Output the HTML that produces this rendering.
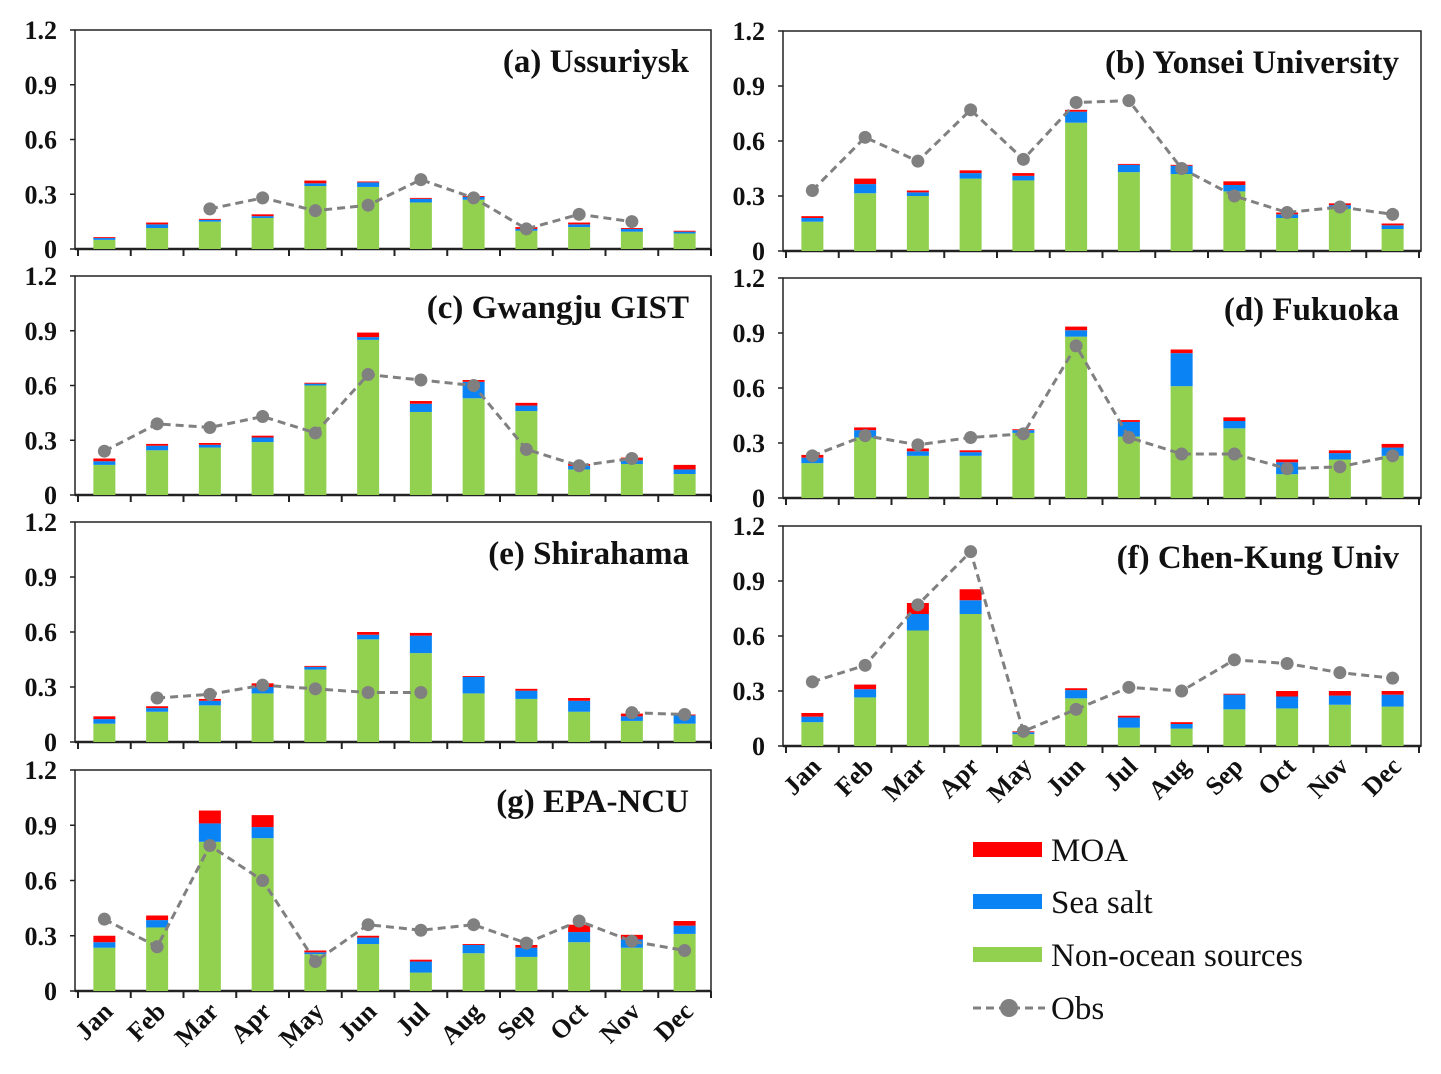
<!DOCTYPE html>
<html><head><meta charset="utf-8"><style>
html,body{margin:0;padding:0;background:#fff;}
svg{display:block;font-family:"Liberation Serif",serif;}
</style></head><body>
<svg id="chart" width="1441" height="1074" viewBox="0 0 1441 1074" xmlns="http://www.w3.org/2000/svg"></svg>
<script>
const months = ["Jan","Feb","Mar","Apr","May","Jun","Jul","Aug","Sep","Oct","Nov","Dec"];
const yTicks = [0, 0.3, 0.6, 0.9, 1.2];
const yTickLabels = ["0","0.3","0.6","0.9","1.2"];
const titles = ["(a) Ussuriysk","(b) Yonsei University","(c) Gwangju GIST","(d) Fukuoka","(e) Shirahama","(f) Chen-Kung Univ","(g) EPA-NCU"];

const greenA = [0.05,0.115,0.15,0.17,0.345,0.34,0.255,0.27,0.10,0.12,0.095,0.085];
const blueA  = [0.01,0.02,0.01,0.01,0.015,0.025,0.02,0.015,0.01,0.015,0.015,0.01];
const redA   = [0.005,0.01,0.005,0.01,0.015,0.005,0.005,0.005,0.01,0.01,0.005,0.005];
const obsA   = [null,null,0.22,0.28,0.21,0.24,0.38,0.28,0.11,0.19,0.15,null];

const greenB = [0.16,0.315,0.30,0.395,0.385,0.70,0.43,0.42,0.325,0.18,0.23,0.12];
const blueB  = [0.02,0.05,0.02,0.03,0.025,0.06,0.04,0.045,0.035,0.02,0.02,0.02];
const redB   = [0.01,0.03,0.01,0.015,0.015,0.01,0.005,0.005,0.02,0.01,0.01,0.01];
const obsB   = [0.33,0.62,0.49,0.77,0.50,0.81,0.82,0.45,0.30,0.21,0.24,0.20];

const greenC = [0.165,0.245,0.26,0.29,0.60,0.85,0.455,0.53,0.46,0.14,0.17,0.115];
const blueC  = [0.02,0.025,0.015,0.025,0.01,0.015,0.045,0.09,0.03,0.02,0.02,0.025];
const redC   = [0.015,0.01,0.01,0.01,0.005,0.025,0.015,0.01,0.015,0.01,0.015,0.025];
const obsC   = [0.24,0.39,0.37,0.43,0.34,0.66,0.63,0.60,0.25,0.16,0.20,null];

const greenD = [0.19,0.33,0.23,0.23,0.355,0.88,0.335,0.61,0.38,0.13,0.21,0.23];
const blueD  = [0.03,0.04,0.025,0.02,0.015,0.035,0.08,0.18,0.04,0.065,0.035,0.045];
const redD   = [0.015,0.015,0.015,0.01,0.005,0.02,0.01,0.02,0.02,0.015,0.015,0.02];
const obsD   = [0.23,0.34,0.29,0.33,0.35,0.83,0.33,0.24,0.24,0.16,0.17,0.23];

const greenE = [0.10,0.165,0.20,0.265,0.395,0.56,0.485,0.265,0.235,0.165,0.115,0.10];
const blueE  = [0.025,0.02,0.025,0.035,0.015,0.025,0.095,0.09,0.045,0.06,0.025,0.045];
const redE   = [0.015,0.01,0.01,0.02,0.005,0.015,0.015,0.005,0.01,0.015,0.015,0.005];
const obsE   = [null,0.24,0.26,0.31,0.29,0.27,0.27,null,null,null,0.16,0.15];

const greenF = [0.13,0.265,0.63,0.72,0.065,0.26,0.10,0.095,0.20,0.205,0.225,0.215];
const blueF  = [0.03,0.045,0.09,0.075,0.01,0.045,0.055,0.025,0.08,0.065,0.05,0.065];
const redF   = [0.02,0.025,0.06,0.06,0.005,0.01,0.01,0.01,0.005,0.03,0.025,0.02];
const obsF   = [0.35,0.44,0.77,1.06,0.08,0.20,0.32,0.30,0.47,0.45,0.40,0.37];

const greenG = [0.235,0.345,0.81,0.83,0.20,0.255,0.10,0.205,0.185,0.265,0.235,0.31];
const blueG  = [0.03,0.04,0.10,0.06,0.01,0.035,0.06,0.045,0.05,0.055,0.045,0.045];
const redG   = [0.035,0.025,0.07,0.065,0.01,0.01,0.01,0.005,0.015,0.04,0.025,0.025];
const obsG   = [0.39,0.24,0.79,0.60,0.16,0.36,0.33,0.36,0.26,0.38,0.27,0.22];

const svg = document.getElementById('chart');
const NS = 'http://www.w3.org/2000/svg';
function mk(tag, attrs, parent){const e=document.createElementNS(NS,tag);for(const k in attrs)e.setAttribute(k,attrs[k]);(parent||svg).appendChild(e);return e;}

const panels = [
 {x0:78,right:711,top:30,bottom:249,g:greenA,b:blueA,r:redA,o:obsA,months:false},
 {x0:786,right:1421,top:31,bottom:251,g:greenB,b:blueB,r:redB,o:obsB,months:false},
 {x0:78,right:711,top:276,bottom:495,g:greenC,b:blueC,r:redC,o:obsC,months:false},
 {x0:786,right:1421,top:278,bottom:498,g:greenD,b:blueD,r:redD,o:obsD,months:false},
 {x0:78,right:711,top:522,bottom:742,g:greenE,b:blueE,r:redE,o:obsE,months:false},
 {x0:786,right:1421,top:526,bottom:746,g:greenF,b:blueF,r:redF,o:obsF,months:true},
 {x0:78,right:711,top:770,bottom:991,g:greenG,b:blueG,r:redG,o:obsG,months:true}
];
const STEP = 52.75, BW = 22;

panels.forEach((p, pi) => {
  const grp = mk('g', {});
  
  
  const xc = i => p.x0 + (i + 0.5) * STEP;
  const y = v => p.bottom - v / 1.2 * (p.bottom - p.top);
  const fr = mk('rect', {x:p.x0-3, y:p.top, width:p.right-p.x0+3, height:p.bottom-p.top, fill:'none', stroke:'#222', 'stroke-width':1.5}, grp);
  
  
  yTicks.forEach((t, k) => {
    const tl = mk('text', {x:p.x0-21, y:y(t)+9, 'text-anchor':'end', 'font-size':26, 'font-weight':'bold', fill:'#111'}, grp);
    tl.textContent = yTickLabels[k];
    
    
    mk('line', {x1:p.x0-8, x2:p.x0-3, y1:y(t), y2:y(t), stroke:'#222','stroke-width':1.5}, grp);
  });
  for (let i = 0; i <= 12; i++) {
    mk('line', {x1:p.x0+i*STEP, x2:p.x0+i*STEP, y1:p.bottom, y2:p.bottom+7, stroke:'#222','stroke-width':2}, grp);
  }
  mk('line', {x1:p.x0-3, x2:p.right, y1:p.bottom, y2:p.bottom, stroke:'#222','stroke-width':2.5}, grp);
  months.forEach((m, i) => {
    const g = p.g[i], b = p.b[i], r = p.r[i];
    const segs = [[0,g,'#92d050','bar-non-ocean'],[g,g+b,'#0a84f5','bar-sea-salt'],[g+b,g+b+r,'#ff0000','bar-moa']];
    segs.forEach(s => {
      const rc = mk('rect', {x:xc(i)-BW/2, y:y(s[1]), width:BW, height:Math.max(0,y(s[0])-y(s[1])), fill:s[2]}, grp);
      
      
    });
  });
  let d = '', started = false;
  p.o.forEach((v, i) => {
    if (v === null) { started = false; return; }
    d += (started ? 'L' : 'M') + xc(i) + ' ' + y(v) + ' ';
    started = true;
  });
  const ln = mk('path', {d:d, fill:'none', stroke:'#808080', 'stroke-width':3, 'stroke-dasharray':'8 5'}, grp);
  
  
  p.o.forEach((v, i) => {
    if (v === null) return;
    const c = mk('circle', {cx:xc(i), cy:y(v), r:6.5, fill:'#808080'}, grp);
    
    
  });
  const tt = mk('text', {x:p.right-22, y:p.top+42, 'text-anchor':'end', 'font-size':33, 'font-weight':'bold', fill:'#111'}, grp);
  tt.textContent = titles[pi];
  
  
  if (p.months) {
    months.forEach((m, i) => {
      const lx = xc(i) + 10, ly = p.bottom + 22;
      const ml = mk('text', {x:lx, y:ly, 'text-anchor':'end', 'font-size':26, 'font-weight':'bold', fill:'#111', transform:'rotate(-45 '+lx+' '+ly+')'}, grp);
      ml.textContent = m;
      
      
    });
  }
});
</script>
<svg style="position:absolute;left:0;top:0" width="1441" height="1074">
  <g><rect x="973" y="842" width="69" height="15" fill="#ff0000"/><text x="1051" y="861" font-size="33" font-family="Liberation Serif, serif" fill="#111">MOA</text></g>
  <g><rect x="973" y="894" width="69" height="15" fill="#0a84f5"/><text x="1051" y="913" font-size="33" font-family="Liberation Serif, serif" fill="#111">Sea salt</text></g>
  <g><rect x="973" y="947" width="69" height="15" fill="#92d050"/><text x="1051" y="966" font-size="33" font-family="Liberation Serif, serif" fill="#111">Non-ocean sources</text></g>
  <g><line x1="973" y1="1008" x2="1045" y2="1008" stroke="#808080" stroke-width="3" stroke-dasharray="8 5"/><circle cx="1009" cy="1008" r="9" fill="#808080"/><text x="1051" y="1019" font-size="33" font-family="Liberation Serif, serif" fill="#111">Obs</text></g>
</svg>
</body></html>
